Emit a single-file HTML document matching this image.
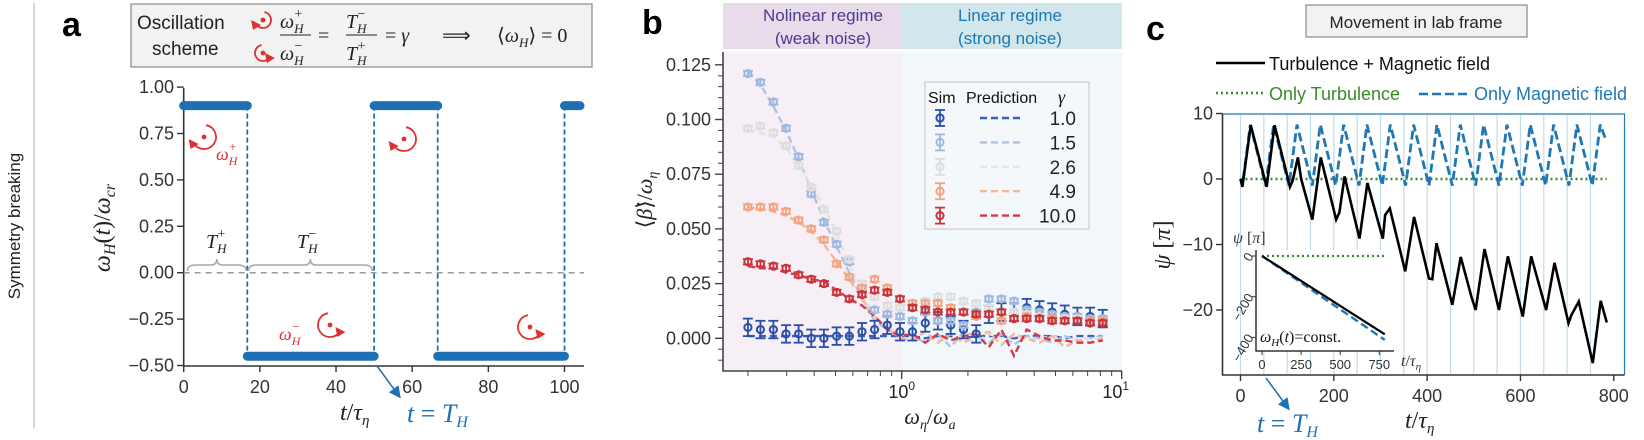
<!DOCTYPE html>
<html><head><meta charset="utf-8"><style>
body{margin:0;background:#fff;width:1644px;height:440px;overflow:hidden}
svg{display:block}
.s{font-family:"Liberation Sans",sans-serif}
.m{font-family:"Liberation Serif",serif;font-style:italic}
</style></head><body>
<svg id="fig" width="1644" height="440" viewBox="0 0 1644 440" xmlns="http://www.w3.org/2000/svg">
<defs>
<marker id="ar" markerWidth="8" markerHeight="8" refX="6" refY="4" orient="auto"><path d="M0,0 L8,4 L0,8 z" fill="#1f6fb4"/></marker>
</defs>
<line x1="34" y1="3" x2="34" y2="428" stroke="#d8d6d0" stroke-width="2"/>
<text class="s" x="0" y="0" font-size="17" text-anchor="middle" transform="translate(20,226) rotate(-90)" fill="#222">Symmetry breaking</text>

<g id="pa">
<text class="s" x="62" y="36" font-size="34" font-weight="bold">a</text>
<rect x="131" y="4" width="461" height="63" fill="#f2f2f2" stroke="#888" stroke-width="1.2"/>
<text class="s" x="137" y="29" font-size="19" fill="#222">Oscillation</text>
<text class="s" x="152" y="55" font-size="19" fill="#222">scheme</text>
<g class="m" font-size="20" fill="#222">
<text x="280" y="28">ω<tspan font-size="13" dy="5">H</tspan><tspan font-size="14" dy="-15" dx="-10">+</tspan></text>
<line x1="280" y1="35" x2="311" y2="35" stroke="#222"/>
<text x="280" y="60">ω<tspan font-size="13" dy="5">H</tspan><tspan font-size="14" dy="-15" dx="-10">−</tspan></text>
<text x="318" y="42" font-style="normal">=</text>
<text x="346" y="28">T<tspan font-size="13" dy="5">H</tspan><tspan font-size="14" dy="-15" dx="-10">−</tspan></text>
<line x1="346" y1="35" x2="377" y2="35" stroke="#222"/>
<text x="346" y="60">T<tspan font-size="13" dy="5">H</tspan><tspan font-size="14" dy="-15" dx="-10">+</tspan></text>
<text x="385" y="42"><tspan font-style="normal">=</tspan> γ</text>
<text x="442" y="42" font-style="normal">⟹</text>
<text x="497" y="42"><tspan font-style="normal">⟨</tspan>ω<tspan font-size="13" dy="5">H</tspan><tspan dy="-5" font-style="normal">⟩ = 0</tspan></text>
</g>
<g id="pa-plot"></g>
</g>

<g id="pb">
<text class="s" x="642" y="34" font-size="34" font-weight="bold">b</text>
<rect x="723" y="3" width="179" height="46" fill="#e8dcea"/>
<rect x="902" y="3" width="220" height="46" fill="#d2e7ec"/>
<rect x="723" y="52" width="179" height="319" fill="#f6eff5"/>
<rect x="902" y="52" width="220" height="319" fill="#f1f7fa"/>
<text class="s" x="823" y="21" font-size="17" fill="#4b3a92" text-anchor="middle">Nolinear regime</text>
<text class="s" x="823" y="44" font-size="17" fill="#4b3a92" text-anchor="middle">(weak noise)</text>
<text class="s" x="1010" y="21" font-size="17" fill="#1a78b4" text-anchor="middle">Linear regime</text>
<text class="s" x="1010" y="44" font-size="17" fill="#1a78b4" text-anchor="middle">(strong noise)</text>
<g id="pb-plot"></g>
</g>

<g id="pc">
<text class="s" x="1146" y="40" font-size="34" font-weight="bold">c</text>
<rect x="1306" y="5" width="221" height="32" fill="#f2f2f2" stroke="#888" stroke-width="1.2"/>
<text class="s" x="1416" y="28" font-size="17" text-anchor="middle" fill="#222">Movement in lab frame</text>
<line x1="1216" y1="63" x2="1265" y2="63" stroke="#000" stroke-width="2.5"/>
<text class="s" x="1269" y="70" font-size="18" fill="#111">Turbulence + Magnetic field</text>
<line x1="1216" y1="93" x2="1265" y2="93" stroke="#3a8a2a" stroke-width="2.5" stroke-dasharray="2,3"/>
<text class="s" x="1269" y="100" font-size="18" fill="#3a8a2a">Only Turbulence</text>
<line x1="1419" y1="94" x2="1467" y2="94" stroke="#1f77b4" stroke-width="2.5" stroke-dasharray="9,4"/>
<text class="s" x="1474" y="100" font-size="18" fill="#1f77b4">Only Magnetic field</text>
<g id="pc-plot"></g>
</g>
</svg>
<script>
const NS="http://www.w3.org/2000/svg";
function mk(parent,tag,attrs,txt){const e=document.createElementNS(NS,tag);for(const k in attrs)e.setAttribute(k,attrs[k]);if(txt!==undefined)e.textContent=txt;parent.appendChild(e);return e;}

/* ---------- Panel a data ---------- */
const aSegStart=[0,16.7,50,66.7,100];
const aSegEnd=[16.7,50,66.7,100,105];
const aSegLevel=[0.9,-0.45,0.9,-0.45,0.9];
const aSwitch=[16.7,50,66.7,100];
const aYTicks=[1.00,0.75,0.50,0.25,0.00,-0.25,-0.50];
const aYTickLabels=["1.00","0.75","0.50","0.25","0.00","−0.25","−0.50"];
const aXTicks=[0,20,40,60,80,100];
const xa=t=>183.7+t*3.808, ya=v=>272.7-v*185.6;
const A=document.getElementById('pa-plot');
let e;
e=mk(A,'line',{x1:183.7,y1:88,x2:183.7,y2:366,stroke:'#333','stroke-width':1.6});


e=mk(A,'line',{x1:183.7,y1:366,x2:584,y2:366,stroke:'#333','stroke-width':1.6});


aYTicks.forEach((v,i)=>{mk(A,'line',{x1:177,x2:183.7,y1:ya(v),y2:ya(v),stroke:'#333','stroke-width':1.4});
 e=mk(A,'text',{x:174,y:ya(v)+6,'font-size':18,'text-anchor':'end',fill:'#333',class:'s'},aYTickLabels[i]);
 
 });
aXTicks.forEach(v=>{mk(A,'line',{x1:xa(v),x2:xa(v),y1:366,y2:372,stroke:'#333','stroke-width':1.4});
 e=mk(A,'text',{x:xa(v),y:393,'font-size':18,'text-anchor':'middle',fill:'#333',class:'s'},String(v));
 
 });
e=mk(A,'line',{x1:183.7,x2:584,y1:ya(0),y2:ya(0),stroke:'#999','stroke-width':1.5,'stroke-dasharray':'6,5'});


aSwitch.forEach(t=>{e=mk(A,'line',{x1:xa(t),x2:xa(t),y1:ya(0.9),y2:ya(-0.45),stroke:'#1f6fb4','stroke-width':1.8,'stroke-dasharray':'5,3'});
 
 });
aSegStart.forEach((s,i)=>{e=mk(A,'line',{x1:xa(s),x2:Math.min(xa(aSegEnd[i]),580),y1:ya(aSegLevel[i]),y2:ya(aSegLevel[i]),stroke:'#1f6fb4','stroke-width':9,'stroke-linecap':'round'});
 
 });
function brace(x1,x2,y){const m=(x1+x2)/2;return `M${x1},${y+6} Q${x1},${y} ${x1+8},${y} L${m-6},${y} Q${m},${y} ${m},${y-6} Q${m},${y} ${m+6},${y} L${x2-8},${y} Q${x2},${y} ${x2},${y+6}`;}
e=mk(A,'path',{d:brace(xa(1),xa(16.4),265),fill:'none',stroke:'#aaa','stroke-width':1.6});


e=mk(A,'path',{d:brace(xa(17),xa(49.5),265),fill:'none',stroke:'#aaa','stroke-width':1.6});


e=mk(A,'text',{x:206,y:248,'font-size':20,class:'m',fill:'#222'});e.innerHTML='T<tspan font-size="13" dy="5">H</tspan><tspan font-size="14" dy="-15" dx="-10">+</tspan>';


e=mk(A,'text',{x:297,y:248,'font-size':20,class:'m',fill:'#222'});e.innerHTML='T<tspan font-size="13" dy="5">H</tspan><tspan font-size="14" dy="-15" dx="-10">−</tspan>';


function rot(cx,cy,r,ccw){const g=mk(A,'g',{});
 const p=(a)=>[cx+r*Math.cos(a*Math.PI/180),cy-r*Math.sin(a*Math.PI/180)];
 const s=p(ccw?100:80), en=p(ccw?-30:210);
 mk(g,'path',{d:`M${s[0]},${s[1]} A${r},${r} 0 1 ${ccw?0:1} ${en[0]},${en[1]}`,fill:'none',stroke:'#e03030','stroke-width':1.8});
 mk(g,'circle',{cx:cx,cy:cy,r:2.4,fill:'#e03030'});
 mk(g,'path',{d:`M${en[0]-5},${en[1]-4} L${en[0]+5},${en[1]+1} L${en[0]-3},${en[1]+6} z`,fill:'#e03030'});
 return g;}
e=rot(204,137,12,false);

e=rot(404,139,12,false);

e=rot(330,325,12,true);

e=rot(530,327,12,true);

e=rot(263,20,8,false);

e=rot(263,53,8,true);

e=mk(A,'text',{x:216,y:160,'font-size':18,class:'m',fill:'#e03030'});e.innerHTML='ω<tspan font-size="12" dy="5">H</tspan><tspan font-size="13" dy="-14" dx="-9">+</tspan>';


e=mk(A,'text',{x:279,y:340,'font-size':18,class:'m',fill:'#e03030'});e.innerHTML='ω<tspan font-size="12" dy="5">H</tspan><tspan font-size="13" dy="-14" dx="-9">−</tspan>';


e=mk(A,'text',{'font-size':24,class:'m',fill:'#222',transform:'translate(110,228) rotate(-90)','text-anchor':'middle'});e.innerHTML='ω<tspan font-size="16" dy="5">H</tspan><tspan dy="-5" font-style="normal">(</tspan>t<tspan font-style="normal">)/</tspan>ω<tspan font-size="16" dy="5">cr</tspan>';


e=mk(A,'text',{x:340,y:420,'font-size':24,class:'m',fill:'#222'});e.innerHTML='t<tspan font-style="normal">/</tspan>τ<tspan font-size="15" dy="5">η</tspan>';


e=mk(A,'text',{x:407,y:422,'font-size':26,class:'m',fill:'#1f6fb4'});e.innerHTML='t <tspan font-style="normal">=</tspan> T<tspan font-size="16" dy="5">H</tspan>';


e=mk(A,'line',{x1:377,y1:366,x2:399,y2:396,stroke:'#1f6fb4','stroke-width':1.5,'marker-end':'url(#ar)'});



/* ---------- Panel b data ---------- */
const bX=[0.20,0.228,0.261,0.298,0.340,0.388,0.443,0.506,0.578,0.660,0.753,0.860,0.982,1.12,1.28,1.46,1.67,1.91,2.18,2.49,2.84,3.24,3.70,4.23,4.83,5.51,6.29,7.18,8.20];
const bGamma=["1.0","1.5","2.6","4.9","10.0"];
const simG1=[0.005,0.004,0.004,0.002,0.002,0.000,0.000,0.001,0.001,0.003,0.004,0.006,0.003,0.003,0.007,0.008,0.006,0.004,0.002,0.011,0.012,0.012,0.014,0.013,0.012,0.011,0.010,0.010,0.009];
const simG15=[0.121,0.117,0.108,0.096,0.083,0.066,0.053,0.043,0.035,0.022,0.013,0.011,0.010,0.008,0.012,0.008,0.008,0.006,0.012,0.018,0.018,0.017,0.013,0.012,0.011,0.010,0.010,0.009,0.009];
const simG26=[0.096,0.097,0.094,0.088,0.079,0.069,0.059,0.049,0.036,0.025,0.019,0.015,0.014,0.014,0.017,0.019,0.019,0.017,0.016,0.014,0.012,0.012,0.011,0.010,0.009,0.009,0.009,0.008,0.008];
const simG49=[0.060,0.060,0.060,0.058,0.054,0.050,0.045,0.034,0.028,0.023,0.027,0.023,0.018,0.016,0.016,0.016,0.014,0.012,0.010,0.011,0.008,0.009,0.010,0.009,0.009,0.008,0.008,0.008,0.008];
const simG10=[0.035,0.034,0.033,0.032,0.029,0.027,0.025,0.021,0.018,0.020,0.022,0.021,0.018,0.014,0.013,0.012,0.012,0.012,0.011,0.011,0.012,0.009,0.009,0.009,0.008,0.008,0.008,0.007,0.007];
const predG1=[0.001,0.001,0.001,0.001,0.001,0.001,0.001,0.001,0.001,0.001,0.001,0.001,0.001,0.001,0.000,0.001,0.001,0.000,0.001,0.001,0.001,0.000,0.001,0.001,0.001,0.000,0.001,0.001,0.001];
const predG15=[0.122,0.116,0.106,0.095,0.082,0.068,0.054,0.042,0.030,0.018,0.008,0.004,0.002,0.001,-0.002,0.002,-0.004,0.003,0.001,-0.002,0.002,-0.003,0.001,0.000,-0.002,0.001,-0.001,0.000,0.001];
const predG26=[0.095,0.094,0.092,0.087,0.079,0.070,0.060,0.048,0.034,0.020,0.010,0.005,0.002,0.000,0.003,-0.001,0.002,0.000,-0.002,0.002,0.000,0.001,-0.001,0.000,0.001,-0.001,0.000,0.000,0.000];
const predG49=[0.060,0.059,0.058,0.056,0.053,0.049,0.043,0.035,0.027,0.018,0.010,0.005,0.000,-0.001,0.003,-0.002,0.002,-0.002,0.001,0.003,-0.003,0.002,0.000,-0.002,0.001,-0.004,-0.001,-0.002,0.000];
const predG10=[0.033,0.032,0.032,0.030,0.029,0.027,0.026,0.022,0.018,0.015,0.010,0.004,0.001,0.002,-0.002,0.002,-0.001,0.001,0.002,-0.004,0.004,-0.008,0.004,0.001,-0.001,-0.001,-0.002,-0.002,-0.001];
const bErr=[0.004,0.0012,0.0012,0.0012,0.0012];
const bYTicks=[0,0.025,0.05,0.075,0.1,0.125];
const bYTickLabels=["0.000","0.025","0.050","0.075","0.100","0.125"];
const bColors=["#2a4fa8","#9fb8df","#dddddd","#f4a482","#c8363b"];
const bPredColors=["#3a5fb8","#adc4e3","#e3e3e3","#f8b597","#d43a4c"];
const sims=[simG1,simG15,simG26,simG49,simG10];
const preds=[predG1,predG15,predG26,predG49,predG10];
const xb=v=>901.7+220*Math.log10(v), yb=v=>338.3-v*2188;
const B=document.getElementById('pb-plot');
for(let k=-4;k<=27;k++){const v=k*0.005,y=yb(v);if(y<55||y>368)continue;mk(B,'line',{x1:718,x2:723,y1:y,y2:y,stroke:'#444','stroke-width':1});}
bYTicks.forEach((v,i)=>{mk(B,'line',{x1:715,x2:723,y1:yb(v),y2:yb(v),stroke:'#444','stroke-width':1.4});
 e=mk(B,'text',{x:711,y:yb(v)+6,'font-size':18,'text-anchor':'end',fill:'#333',class:'s'},bYTickLabels[i]);
 
 });
[0.2,0.3,0.4,0.5,0.6,0.7,0.8,0.9,2,3,4,5,6,7,8,9].forEach(v=>mk(B,'line',{x1:xb(v),x2:xb(v),y1:371,y2:376,stroke:'#444','stroke-width':1}));
[1,10].forEach(v=>mk(B,'line',{x1:xb(v),x2:xb(v),y1:371,y2:379,stroke:'#444','stroke-width':1.4}));
e=mk(B,'text',{x:xb(1),y:398,'font-size':18,'text-anchor':'middle',fill:'#222',class:'s'});e.innerHTML='10<tspan font-size="12" dy="-8">0</tspan>';


e=mk(B,'text',{x:xb(10)-6,y:398,'font-size':18,'text-anchor':'middle',fill:'#222',class:'s'});e.innerHTML='10<tspan font-size="12" dy="-8">1</tspan>';


e=mk(B,'path',{d:'M723,52 L723,371 L1122,371',fill:'none',stroke:'#444','stroke-width':1.6});


preds.forEach((arr,s)=>{e=mk(B,'polyline',{points:arr.map((v,i)=>xb(bX[i])+','+yb(v)).join(' '),fill:'none',stroke:bPredColors[s],'stroke-width':2.4,'stroke-dasharray':'7,4'});
 
 });
sims.forEach((arr,s)=>{const g=mk(B,'g',{stroke:bColors[s],fill:'none','stroke-width':1.8});
 
 
 arr.forEach((v,i)=>{const x=xb(bX[i]),y=yb(v),d=bErr[s]*2188;
  mk(g,'line',{x1:x,x2:x,y1:y-d,y2:y+d});mk(g,'line',{x1:x-5,x2:x+5,y1:y-d,y2:y-d});mk(g,'line',{x1:x-5,x2:x+5,y1:y+d,y2:y+d});
  const c=mk(g,'circle',{cx:x,cy:y,r:3.6,'stroke-width':2});
  
  });});
const L=mk(B,'g',{});


mk(L,'rect',{x:925,y:82,width:164,height:147,fill:'#f4f8fa',stroke:'#ccc','stroke-width':1.2});
mk(L,'text',{x:928,y:103,'font-size':16,class:'s',fill:'#111'},'Sim');
mk(L,'text',{x:966,y:103,'font-size':16,class:'s',fill:'#111'},'Prediction');
mk(L,'text',{x:1058,y:103,'font-size':18,class:'m',fill:'#111'},'γ');
bGamma.forEach((gm,s)=>{const y=118+s*24.4;
 mk(L,'line',{x1:940,x2:940,y1:y-8,y2:y+8,stroke:bColors[s],'stroke-width':1.8});
 mk(L,'line',{x1:935,x2:945,y1:y-8,y2:y-8,stroke:bColors[s],'stroke-width':1.8});
 mk(L,'line',{x1:935,x2:945,y1:y+8,y2:y+8,stroke:bColors[s],'stroke-width':1.8});
 mk(L,'circle',{cx:940,cy:y,r:3.6,fill:'none',stroke:bColors[s],'stroke-width':2});
 mk(L,'line',{x1:980,x2:1023,y1:y,y2:y,stroke:bPredColors[s],'stroke-width':2.4,'stroke-dasharray':'7,4'});
 mk(L,'text',{x:1076,y:y+7,'font-size':19,'text-anchor':'end',class:'s',fill:'#222'},gm);});
e=mk(B,'text',{'font-size':22,class:'m',fill:'#222',transform:'translate(652,200) rotate(-90)','text-anchor':'middle'});e.innerHTML='<tspan font-style="normal">⟨</tspan>β̇<tspan font-style="normal">⟩/</tspan>ω<tspan font-size="14" dy="5">η</tspan>';


e=mk(B,'text',{x:930,y:424,'font-size':22,class:'m',fill:'#222','text-anchor':'middle'});e.innerHTML='ω<tspan font-size="14" dy="5">η</tspan><tspan dy="-5" font-style="normal">/</tspan>ω<tspan font-size="14" dy="5">a</tspan>';



/* ---------- Panel c data ---------- */
const cT=[0,4,22,56,73,106,112,123,130,154,172,205,212,223,255,272,305,310,320,353,372,404,411,420,454,472,495,504,523,554,573,605,623,655,673,703,709,725,755,772,785];
const cV=[0,-1.2,8.2,-1.2,8.2,-1.2,-0.2,3.3,0,-6.2,3.3,-6.2,-5.1,0.4,-9.1,-0.6,-9.1,-5.5,-4.5,-14.1,-5.8,-15.2,-15.3,-9.8,-19.2,-11.9,-18,-20,-10.7,-20,-11.8,-21,-11.8,-20,-12.8,-22,-20.8,-18.7,-28.1,-18.6,-21.9];
const magT=[0,4,21,54,71,104,121,154,171,204,221,254,271,304,321,354,371,404,421,454,471,504,521,554,571,604,621,654,671,704,721,754,771,784];
const magV=[0,-1,8.3,-1,8.3,-1,8.3,-1,8.3,-1,8.3,-1,8.3,-1,8.3,-1,8.3,-1,8.3,-1,8.3,-1,8.3,-1,8.3,-1,8.3,-1,8.3,-1,8.3,-1,8.3,5.8];
const turbT=[0,785];
const turbV=[0,0];
const switchT=[0,50,100,150,200,250,300,350,400,450,500,550,600,650,700,750];
const cXTicks=[0,200,400,600,800];
const cYTicks=[10,0,-10,-20];
const cYTickLabels=["10","0","−10","−20"];
const insT=[0,785];
const insCombined=[0,-385];
const insMagnetic=[0,-412];
const insTurb=[0,0];
const insXTicks=[0,250,500,750];
const insYTicks=[0,-200,-400];
const xc=t=>1240.5+t*0.4666, yc=v=>179-v*6.55;
const C=document.getElementById('pc-plot');
switchT.forEach(t=>{e=mk(C,'line',{x1:xc(t),x2:xc(t),y1:115,y2:374,stroke:'#bfdcec','stroke-width':1.2});
 
 });
e=mk(C,'path',{d:'M1222.5,114 L1624.5,114 L1624.5,375',fill:'none',stroke:'#1f77b4','stroke-width':1.2});


e=mk(C,'path',{d:'M1222.5,114 L1222.5,375 L1624.5,375',fill:'none',stroke:'#333','stroke-width':1.6});


cYTicks.forEach((v,i)=>{mk(C,'line',{x1:1216,x2:1222.5,y1:yc(v),y2:yc(v),stroke:'#333','stroke-width':1.4});
 e=mk(C,'text',{x:1213,y:yc(v)+6,'font-size':18,'text-anchor':'end',fill:'#333',class:'s'},cYTickLabels[i]);
 
 });
cXTicks.forEach(v=>{mk(C,'line',{x1:xc(v),x2:xc(v),y1:375,y2:381,stroke:'#333','stroke-width':1.4});
 e=mk(C,'text',{x:xc(v),y:402,'font-size':18,'text-anchor':'middle',fill:'#333',class:'s'},String(v));
 
 });
e=mk(C,'polyline',{points:turbT.map((t,i)=>xc(t)+','+yc(turbV[i])).join(' '),fill:'none',stroke:'#3a8a2a','stroke-width':2.4,'stroke-dasharray':'2,3'});


e=mk(C,'polyline',{points:magT.map((t,i)=>xc(t)+','+yc(magV[i])).join(' '),fill:'none',stroke:'#1f77b4','stroke-width':2.8,'stroke-dasharray':'9,4'});


e=mk(C,'polyline',{points:cT.map((t,i)=>xc(t)+','+yc(cV[i])).join(' '),fill:'none',stroke:'#000','stroke-width':2.6});


const xi=t=>1262+t*0.1564, yi=v=>256-v*0.2035;
const I=mk(C,'g',{});


mk(I,'rect',{x:1256,y:250,width:138,height:101,fill:'#fff'});
mk(I,'path',{d:'M1256,250 L1256,351 L1394,351',fill:'none',stroke:'#333','stroke-width':1.5});
insXTicks.forEach(v=>{mk(I,'line',{x1:xi(v),x2:xi(v),y1:351,y2:355,stroke:'#333'});
 e=mk(I,'text',{x:xi(v),y:369,'font-size':13,'text-anchor':'middle',fill:'#333',class:'s'},String(v));
 
 });
insYTicks.forEach(v=>{mk(I,'line',{x1:1252,x2:1256,y1:yi(v),y2:yi(v),stroke:'#333'});
 e=mk(I,'text',{x:0,y:0,'font-size':13,'text-anchor':'end',fill:'#333',class:'s',transform:`translate(1254,${yi(v)}) rotate(-60)`},v===0?'0':'−'+(-v));
 
 });
mk(I,'polyline',{points:insT.map((t,i)=>xi(t)+','+yi(insTurb[i])).join(' '),fill:'none',stroke:'#3a8a2a','stroke-width':2.2,'stroke-dasharray':'2,3'});
mk(I,'polyline',{points:insT.map((t,i)=>xi(t)+','+yi(insMagnetic[i])).join(' '),fill:'none',stroke:'#1f77b4','stroke-width':2.4,'stroke-dasharray':'8,4'});
mk(I,'polyline',{points:insT.map((t,i)=>xi(t)+','+yi(insCombined[i])).join(' '),fill:'none',stroke:'#000','stroke-width':2.2});
e=mk(I,'text',{x:1260,y:342,'font-size':16,class:'m',fill:'#111'});e.innerHTML='ω<tspan font-size="11" dy="4">H</tspan><tspan dy="-4" font-style="normal">(</tspan>t<tspan font-style="normal">)=const.</tspan>';
e=mk(I,'text',{x:1233,y:243,'font-size':16,class:'m',fill:'#333'});e.innerHTML='ψ <tspan font-style="normal">[</tspan>π<tspan font-style="normal">]</tspan>';
e=mk(I,'text',{x:1401,y:366,'font-size':16,class:'m',fill:'#333'});e.innerHTML='t<tspan font-style="normal">/</tspan>τ<tspan font-size="11" dy="4">η</tspan>';
e=mk(C,'text',{'font-size':24,class:'m',fill:'#222',transform:'translate(1170,245) rotate(-90)','text-anchor':'middle'});e.innerHTML='ψ <tspan font-style="normal">[</tspan>π<tspan font-style="normal">]</tspan>';


e=mk(C,'text',{x:1405,y:428,'font-size':24,class:'m',fill:'#222'});e.innerHTML='t<tspan font-style="normal">/</tspan>τ<tspan font-size="15" dy="5">η</tspan>';


e=mk(C,'text',{x:1257,y:432,'font-size':26,class:'m',fill:'#1f6fb4'});e.innerHTML='t <tspan font-style="normal">=</tspan> T<tspan font-size="16" dy="5">H</tspan>';


e=mk(C,'line',{x1:1266,y1:378,x2:1288,y2:408,stroke:'#1f6fb4','stroke-width':1.5,'marker-end':'url(#ar)'});


</script>
</body></html>
